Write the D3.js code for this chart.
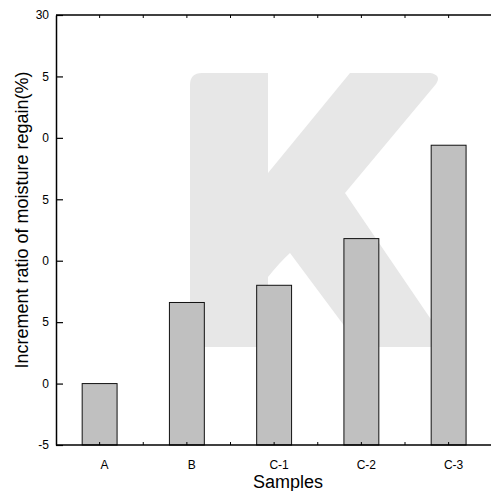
<!DOCTYPE html>
<html>
<head>
<meta charset="utf-8">
<script src="https://cdn.jsdelivr.net/npm/d3@7"></script>
<style>
  html, body { margin: 0; padding: 0; background: #fff; }
  svg { display: block; }
  text { font-family: "Liberation Sans", Arial, sans-serif; fill: #000; }
</style>
</head>
<body>
<svg id="chart" width="491" height="491"></svg>
<script>
// ---- data ----
const categories = ["A", "B", "C-1", "C-2", "C-3"];
const values = [0, 6.6, 8.0, 11.8, 19.4];
const yTicks = [-5, 0, 5, 10, 15, 20, 25, 30];
const yTickLabels = ["-5", "0", "5", "0", "5", "0", "5", "30"];
const yTitle = "Increment ratio of moisture regain(%)";
const xTitle = "Samples";

// ---- layout ----
const W = 491, H = 491;
const plotLeft = 56, plotTop = 15, plotBottom = 445, plotRight = 492.25;

const svg = d3.select("#chart");

const y = d3.scaleLinear().domain([-5, 30]).range([plotBottom, plotTop]);
const x = d3.scaleBand().domain(categories).range([plotLeft, plotRight])
  .paddingInner(0.6).paddingOuter(0.3);
const yBase = y.domain()[0];

// watermark "K"
const k = d3.path();
k.moveTo(190, 85);
k.quadraticCurveTo(190, 73, 202, 73);
k.lineTo(268, 73);
k.lineTo(268, 173);
k.lineTo(350, 73);
k.lineTo(430, 73);
k.quadraticCurveTo(442, 75, 436, 84);
k.lineTo(345, 193);
k.lineTo(445, 340);
k.lineTo(445, 347);
k.lineTo(360, 347);
k.lineTo(290, 253);
k.quadraticCurveTo(280, 262, 268, 277);
k.lineTo(268, 347);
k.lineTo(190, 347);
k.closePath();
svg.append("path").attr("d", k.toString()).attr("fill", "#e7e7e7");

// bars (drawn up from the axis baseline)
svg.append("g").selectAll("rect").data(values).join("rect")
  .attr("x", (d, i) => x(categories[i]))
  .attr("width", x.bandwidth())
  .attr("y", d => y(d))
  .attr("height", d => y(yBase) - y(d))
  .attr("fill", "#c0c0c0")
  .attr("stroke", "#111")
  .attr("stroke-width", 1);

// y axis
const yAxis = svg.append("g")
  .attr("transform", `translate(${plotLeft},0)`)
  .call(d3.axisLeft(y).tickValues(yTicks)
    .tickFormat((d, i) => yTickLabels[i])
    .tickSizeInner(-7).tickSizeOuter(0).tickPadding(7));
yAxis.select(".domain").attr("stroke", "#000").attr("stroke-width", 1.5);
yAxis.selectAll(".tick line").attr("stroke", "#000").attr("stroke-width", 1.2);
yAxis.selectAll(".tick text")
  .style("font-family", "'Liberation Sans', Arial, sans-serif")
  .style("font-size", "12px").attr("fill", "#000");

// minor/major x tick positions (centers and midpoints)
const step = x.step();
const xTickPos = [];
categories.forEach((c, i) => {
  const cx = x(c) + x.bandwidth() / 2;
  xTickPos.push(cx);
  if (i < categories.length - 1) xTickPos.push(cx + step / 2);
});

// bottom axis
const xAxis = svg.append("g")
  .attr("transform", `translate(0,${plotBottom})`)
  .call(d3.axisBottom(x).tickSizeInner(-3).tickSizeOuter(0).tickPadding(15));
xAxis.select(".domain").attr("d", `M${plotLeft},0H${W}`).attr("stroke", "#000").attr("stroke-width", 1.5);
xAxis.selectAll(".tick line").remove();
xAxis.selectAll(".tick text")
  .attr("dx", 5)
  .style("font-family", "'Liberation Sans', Arial, sans-serif")
  .style("font-size", "12px").attr("fill", "#000");
svg.append("g").selectAll("line").data(xTickPos).join("line")
  .attr("x1", d => d).attr("x2", d => d)
  .attr("y1", plotBottom).attr("y2", plotBottom - 3)
  .attr("stroke", "#000").attr("stroke-width", 1);

// top frame line
svg.append("line").attr("x1", plotLeft).attr("x2", W).attr("y1", plotTop).attr("y2", plotTop)
  .attr("stroke", "#000").attr("stroke-width", 1.5);
svg.append("g").selectAll("line").data(xTickPos).join("line")
  .attr("x1", d => d).attr("x2", d => d)
  .attr("y1", plotTop).attr("y2", plotTop + 3)
  .attr("stroke", "#000").attr("stroke-width", 1);

// titles
svg.append("text")
  .attr("transform", `translate(28,${(68 + 372) / 2}) rotate(-90)`)
  .attr("text-anchor", "middle")
  .style("font-size", "18px")
  .attr("fill", "#222")
  .text(yTitle);

svg.append("text")
  .attr("x", 288).attr("y", 488)
  .attr("text-anchor", "middle")
  .style("font-size", "18px")
  .attr("fill", "#222")
  .text(xTitle);
</script>
</body>
</html>
